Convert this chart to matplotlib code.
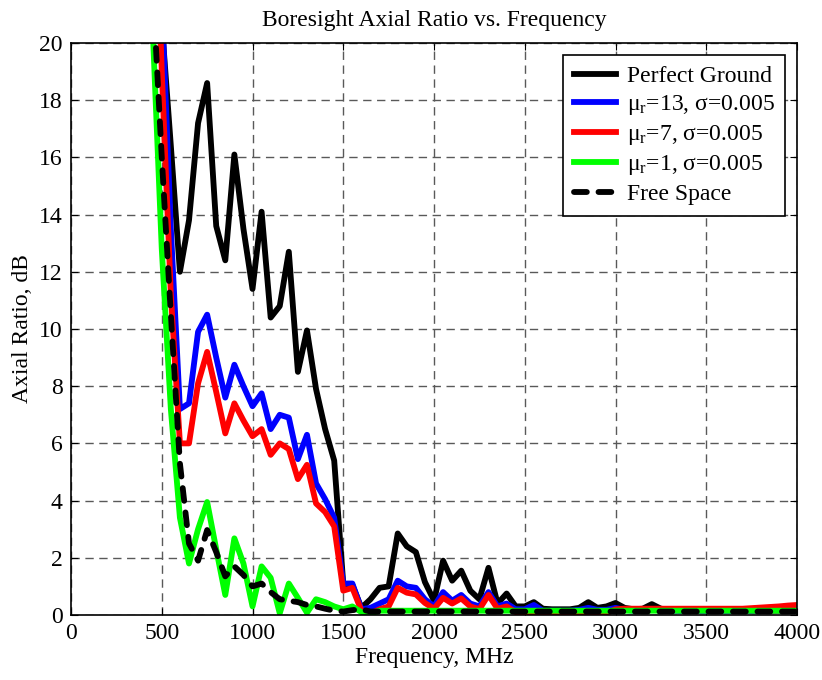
import numpy as np
import matplotlib
matplotlib.use('Agg')
import matplotlib.pyplot as plt

plt.rcParams['font.family'] = ['Liberation Serif', 'DejaVu Serif']
plt.rcParams['mathtext.fontset'] = 'custom'
plt.rcParams['mathtext.rm'] = 'Liberation Serif'
plt.rcParams['mathtext.it'] = 'Liberation Serif:italic'

# frequency sweep, MHz
freq = [400, 450, 500, 550, 600, 650, 700, 750, 800, 850,
        900, 950, 1000, 1050, 1100, 1150, 1200, 1250, 1300, 1350,
        1400, 1450, 1500, 1550, 1600, 1650, 1700, 1750, 1800, 1850,
        1900, 1950, 2000, 2050, 2100, 2150, 2200, 2250, 2300, 2350,
        2400, 2450, 2500, 2550, 2600, 2650, 2700, 2750, 2800, 2850,
        2900, 2950, 3000, 3050, 3100, 3150, 3200, 3250, 3300, 3350,
        3400, 3450, 3500, 3550, 3600, 3650, 3700, 3750, 3800, 3850,
        3900, 3950, 4000]

# axial ratio (dB) for each case
ar_perfect = [40, 30, 20.7, 16.4, 12.0, 13.8, 17.2, 18.6, 13.6, 12.4,
              16.1, 13.5, 11.4, 14.1, 10.4, 10.8, 12.7, 8.5, 9.95, 7.9,
              6.5, 5.4, 1.1, 1.05, 0.25, 0.55, 0.95, 1.0, 2.85, 2.4,
              2.2, 1.15, 0.5, 1.9, 1.2, 1.55, 0.85, 0.55, 1.65, 0.4,
              0.75, 0.3, 0.3, 0.45, 0.22, 0.2, 0.2, 0.2, 0.25, 0.45,
              0.25, 0.3, 0.42, 0.25, 0.2, 0.22, 0.38, 0.22, 0.18, 0.15,
              0.15, 0.15, 0.15, 0.15, 0.15, 0.15, 0.15, 0.15, 0.15, 0.15,
              0.15, 0.18, 0.2]

ar_mu13 = [40, 30, 21.5, 13.5, 7.2, 7.4, 9.9, 10.5, 9.0, 7.6,
           8.75, 8.0, 7.3, 7.75, 6.5, 7.0, 6.9, 5.45, 6.3, 4.6,
           4.05, 3.4, 1.1, 1.1, 0.2, 0.25, 0.4, 0.55, 1.2, 1.0,
           0.95, 0.55, 0.3, 0.8, 0.5, 0.7, 0.4, 0.3, 0.8, 0.3,
           0.4, 0.2, 0.2, 0.35, 0.15, 0.15, 0.15, 0.15, 0.18, 0.25,
           0.18, 0.18, 0.25, 0.18, 0.15, 0.15, 0.2, 0.15, 0.15, 0.15,
           0.15, 0.15, 0.15, 0.15, 0.15, 0.15, 0.15, 0.15, 0.18, 0.2,
           0.22, 0.25, 0.25]

ar_mu7 = [38, 28, 19.0, 11.2, 6.0, 6.0, 8.1, 9.2, 7.8, 6.35,
          7.4, 6.8, 6.25, 6.5, 5.6, 6.0, 5.8, 4.75, 5.25, 3.9,
          3.6, 3.1, 0.85, 0.95, 0.15, 0.05, 0.2, 0.3, 0.95, 0.78,
          0.72, 0.42, 0.22, 0.6, 0.4, 0.58, 0.3, 0.2, 0.7, 0.22,
          0.3, 0.1, 0.08, 0.07, 0.07, 0.07, 0.07, 0.07, 0.07, 0.07,
          0.07, 0.07, 0.2, 0.22, 0.22, 0.22, 0.22, 0.22, 0.22, 0.22,
          0.22, 0.22, 0.22, 0.22, 0.22, 0.22, 0.22, 0.24, 0.26, 0.28,
          0.3, 0.33, 0.35]

ar_mu1 = [35, 20.5, 12.8, 7.2, 3.4, 1.8, 3.0, 3.95, 2.3, 0.7,
          2.68, 1.8, 0.3, 1.7, 1.3, 0.06, 1.1, 0.6, 0.08, 0.55,
          0.45, 0.3, 0.2, 0.3, 0.1, 0.05, 0.15, 0.15, 0.15, 0.15,
          0.15, 0.15, 0.15, 0.15, 0.15, 0.15, 0.15, 0.15, 0.15, 0.15,
          0.15, 0.15, 0.15, 0.15, 0.15, 0.15, 0.15, 0.15, 0.15, 0.15,
          0.15, 0.15, 0.15, 0.15, 0.15, 0.15, 0.15, 0.15, 0.15, 0.15,
          0.15, 0.15, 0.15, 0.15, 0.15, 0.15, 0.15, 0.15, 0.15, 0.15,
          0.15, 0.15, 0.15]

ar_free = [32, 22, 16, 10.5, 5.3, 2.5, 1.9, 2.97, 2.2, 1.35,
           1.7, 1.4, 1.0, 1.1, 0.8, 0.55, 0.5, 0.45, 0.35, 0.3,
           0.22, 0.15, 0.12, 0.17, 0.2, 0.12, 0.12, 0.12, 0.12, 0.12,
           0.12, 0.12, 0.12, 0.12, 0.12, 0.12, 0.12, 0.12, 0.12, 0.12,
           0.12, 0.12, 0.12, 0.12, 0.12, 0.12, 0.12, 0.12, 0.12, 0.12,
           0.12, 0.12, 0.12, 0.12, 0.12, 0.12, 0.12, 0.12, 0.12, 0.12,
           0.12, 0.12, 0.12, 0.12, 0.12, 0.12, 0.12, 0.12, 0.12, 0.12,
           0.12, 0.12, 0.12]

fig = plt.figure(figsize=(8.22, 6.8), dpi=100)
ax = fig.add_axes([0.0864, 0.0956, 0.8832, 0.8412])

lw = 4.2
ax.plot(freq, ar_perfect, color='k', lw=lw, label='Perfect Ground')
ax.plot(freq, ar_mu13, color='#0000ff', lw=lw, label=r'μ$_\mathrm{r}$=13, σ=0.005')
ax.plot(freq, ar_mu7, color='#ff0000', lw=lw, label=r'μ$_\mathrm{r}$=7, σ=0.005')
ax.plot(freq, ar_mu1, color='#00ff00', lw=lw, label=r'μ$_\mathrm{r}$=1, σ=0.005')
ax.plot(freq, ar_free, color='k', lw=lw, ls=(0, (2.2, 2.0)),
        dash_capstyle='round', label='Free Space')

ax.set_xlim(0, 4000)
ax.set_ylim(0, 20)
ax.set_xticks(np.arange(0, 4001, 500))
ax.set_yticks(np.arange(0, 21, 2))
ax.tick_params(direction='in', top=True, right=True, length=5,
               labelsize=17, pad=6)
ax.grid(True, color='0.35', ls=(0, (6, 4)), lw=1)
for s in ax.spines.values():
    s.set_linewidth(1.2)

ax.set_title('Boresight Axial Ratio vs. Frequency', fontsize=17, pad=12)
ax.set_xlabel('Frequency, MHz', fontsize=17, labelpad=2)
ax.set_ylabel('Axial Ratio, dB', fontsize=17, labelpad=4)

leg = ax.legend(loc='upper right', fontsize=17, fancybox=False,
                framealpha=1, edgecolor='k', borderpad=0.45,
                labelspacing=0.26, handlelength=1.8, handletextpad=0.45,
                borderaxespad=0.5)
leg.get_frame().set_linewidth(1.2)

fig.savefig('out.png', dpi=100)
